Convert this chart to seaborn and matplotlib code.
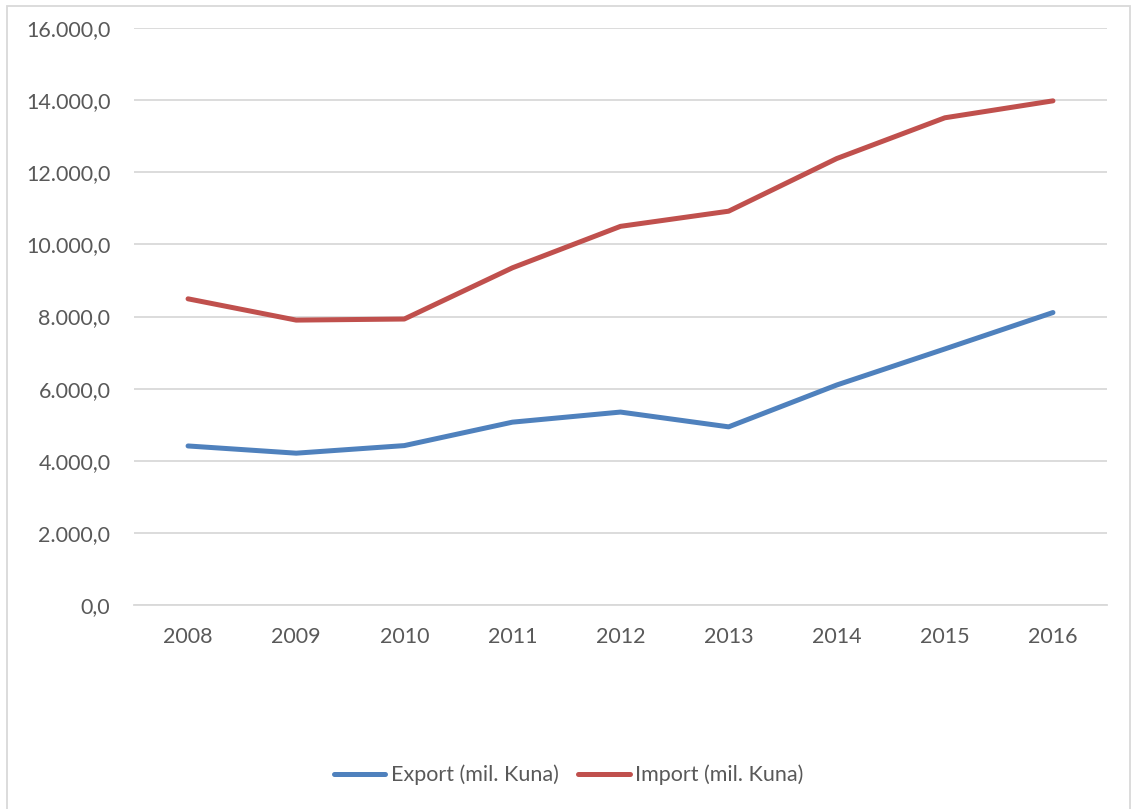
import pandas as pd
import seaborn as sns
import matplotlib.pyplot as plt
from matplotlib.ticker import FuncFormatter
from matplotlib.patches import Rectangle

years = ["2008", "2009", "2010", "2011", "2012", "2013", "2014", "2015", "2016"]
export_vals = [4410, 4210, 4420, 5070, 5350, 4940, 6100, 7100, 8110]
import_vals = [8490, 7900, 7930, 9350, 10500, 10920, 12380, 13510, 13980]
series_names = ["Export (mil. Kuna)", "Import (mil. Kuna)"]
colors = ["#4F81BD", "#C0504D"]

df = pd.DataFrame({
    "year": years * 2,
    "value": export_vals + import_vals,
    "series": [series_names[0]] * len(years) + [series_names[1]] * len(years),
})

sns.set_style("white")
plt.rcParams["font.family"] = ["Lato", "DejaVu Sans"]

fig = plt.figure(figsize=(11.37, 8.09), dpi=100)
ax = fig.add_axes([134 / 1137, 1 - 605 / 809, (1107 - 134) / 1137, (605 - 28) / 809])

sns.lineplot(data=df, x="year", y="value", hue="series", palette=colors,
             linewidth=3.6, ax=ax, sort=False, solid_capstyle="round")

ax.set_xlim(-0.5, len(years) - 0.5)
ax.set_ylim(0, 16000)
ax.set_yticks(range(0, 16001, 2000))


def fmt(v, pos):
    s = f"{v:,.1f}"
    return s.replace(",", "X").replace(".", ",").replace("X", ".")


ax.yaxis.set_major_formatter(FuncFormatter(fmt))
ax.grid(axis="y", color="#D9D9D9", linewidth=1.3)
ax.set_axisbelow(True)
for side in ["top", "right", "left"]:
    ax.spines[side].set_visible(False)
ax.spines["bottom"].set_color("#D9D9D9")
ax.spines["bottom"].set_linewidth(1.3)
ax.tick_params(axis="both", length=0, labelsize=15.5, labelcolor="#595959")
ax.tick_params(axis="y", pad=17)
ax.tick_params(axis="x", pad=16)
ax.set_xlabel("")
ax.set_ylabel("")

leg = ax.legend(loc="center", bbox_to_anchor=(0.5, 1 - 775 / 809), bbox_transform=fig.transFigure,
                ncol=2, frameon=False, fontsize=15.5, handlelength=2.4, handletextpad=0.25,
                columnspacing=0.9)
for t in leg.get_texts():
    t.set_color("#595959")
for line in leg.get_lines():
    line.set_linewidth(3.6)

fig.patches.append(Rectangle((7 / 1137, -0.01), (1130 - 7) / 1137, 1 - 6 / 809 + 0.01,
                             transform=fig.transFigure, fill=False,
                             edgecolor="#D9D9D9", linewidth=1.3))

fig.savefig("out.png", dpi=100)
